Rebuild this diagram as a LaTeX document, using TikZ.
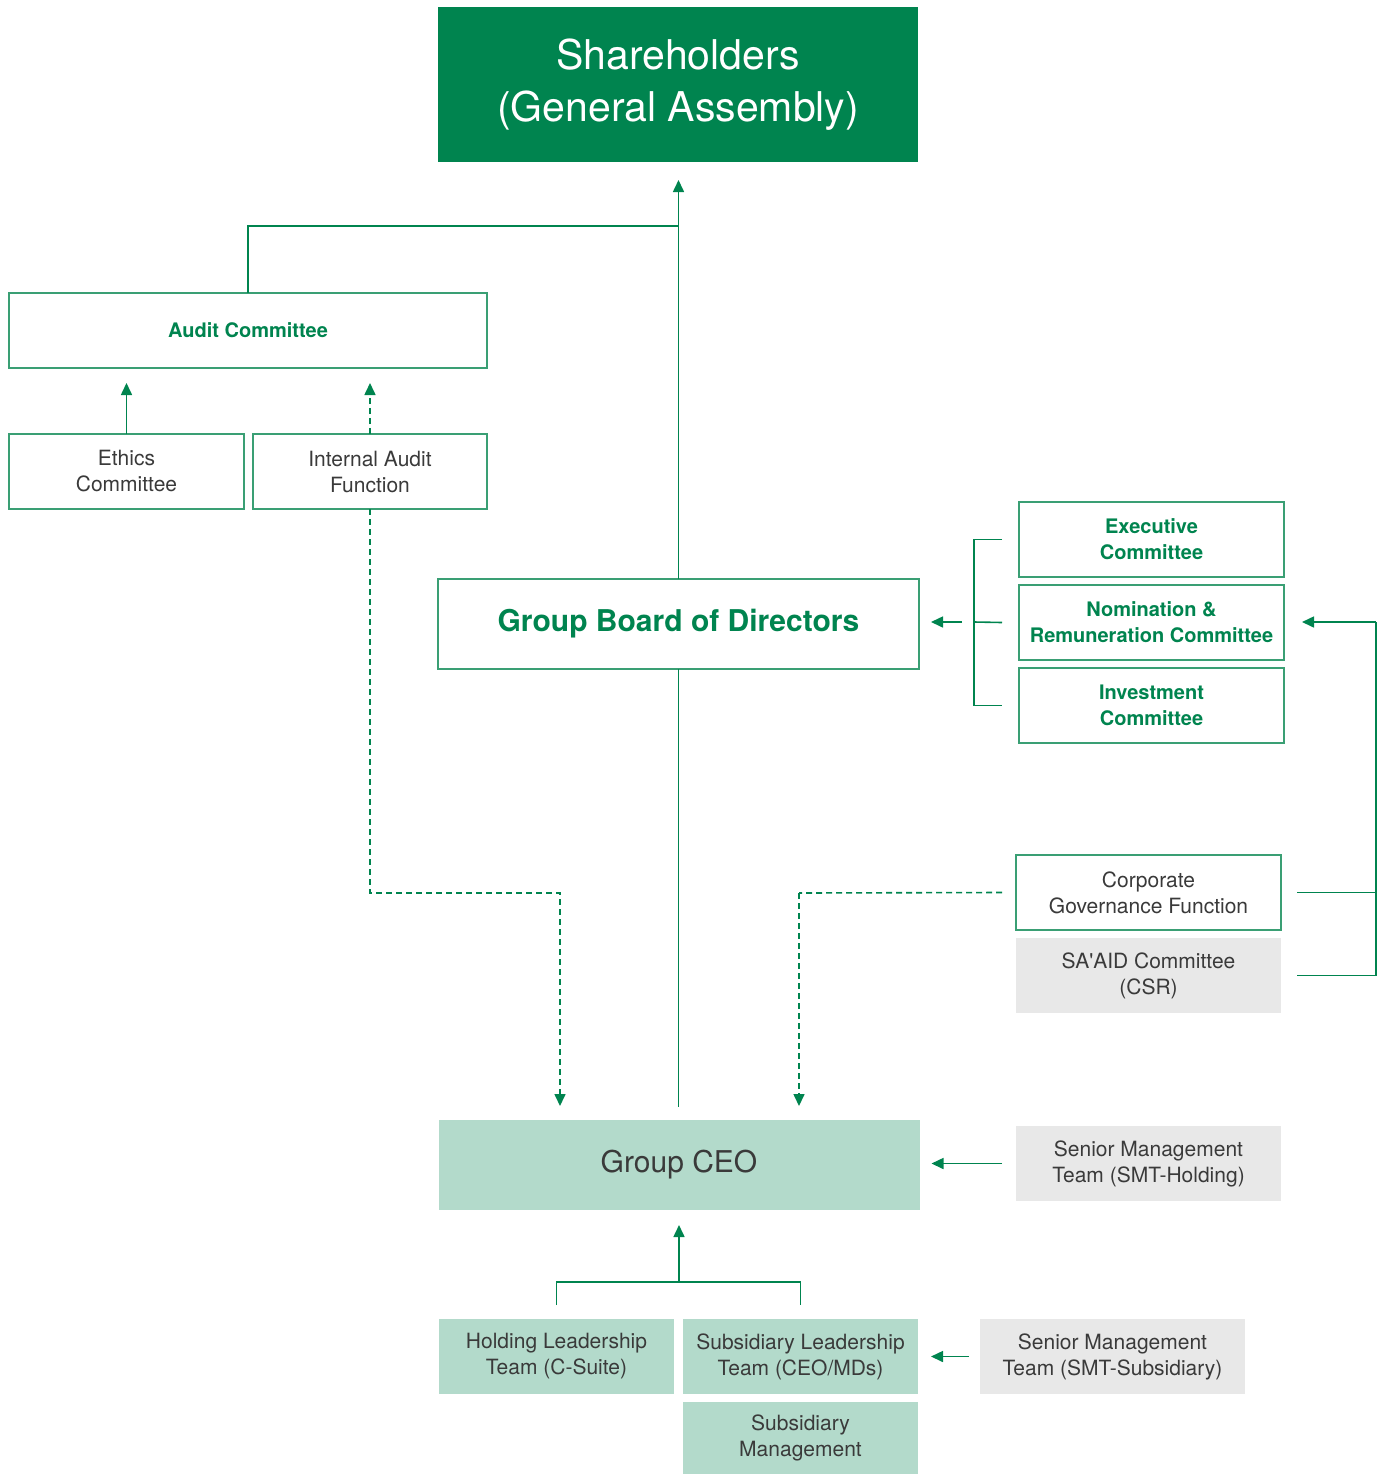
\documentclass[tikz,border=0pt]{standalone}
\usepackage{fontspec}
\setmainfont{TeX Gyre Heros}
\usetikzlibrary{arrows.meta}
\definecolor{dgreen}{HTML}{00844F}
\definecolor{bgreen}{HTML}{3A9F74}
\definecolor{lgreen}{HTML}{B3DACB}
\definecolor{lgrey}{HTML}{E8E8E8}
\definecolor{txt}{HTML}{3A3A3A}
\begin{document}
\begin{tikzpicture}[x=1pt,y=-1pt,
  base/.style={inner sep=0pt,outer sep=0pt,align=center,text=txt,font=\fontsize{21}{26}\selectfont},
  box/.style={base,draw=bgreen,line width=1.5pt,fill=white},
  gbox/.style={box,text=dgreen,font=\bfseries\fontsize{20}{26}\selectfont},
  greybox/.style={base,fill=lgrey},
  lgbox/.style={base,fill=lgreen},
  conn/.style={draw=dgreen,line width=1.6pt},
  arr/.style={conn,-{Triangle[width=11pt,length=12pt]}},
  darr/.style={arr,dash pattern=on 6pt off 4pt},
  dline/.style={conn,dash pattern=on 6pt off 4pt}
]
\useasboundingbox (0,0) rectangle (1381,1475);

% nodes
\node[base,fill=dgreen,text=white,font=\fontsize{41}{52}\selectfont,minimum width=480,minimum height=155] (share) at (678,84.5) {Shareholders\\(General Assembly)};
\node[gbox,minimum width=478,minimum height=75] (audit) at (248,330.5) {Audit Committee};
\node[box,minimum width=235,minimum height=75] (ethics) at (126.5,471.5) {Ethics\\Committee};
\node[box,minimum width=234,minimum height=75] (ia) at (370,471.5) {Internal Audit\\Function};
\node[gbox,font=\bfseries\fontsize{30}{36}\selectfont,minimum width=481,minimum height=90] (board) at (678.5,624) {Group Board of Directors};
\node[gbox,minimum width=265,minimum height=75] (exec) at (1151.5,539.5) {Executive\\Committee};
\node[gbox,minimum width=265,minimum height=75] (nom) at (1151.5,622.5) {Nomination \&\\Remuneration Committee};
\node[gbox,minimum width=265,minimum height=75] (inv) at (1151.5,705.5) {Investment\\Committee};
\node[box,minimum width=265,minimum height=75] (cg) at (1148.5,892.5) {Corporate\\Governance Function};
\node[greybox,minimum width=265,minimum height=75] (saaid) at (1148.5,975.5) {SA\textquotesingle AID Committee\\(CSR)};
\node[lgbox,font=\fontsize{30}{36}\selectfont,minimum width=481,minimum height=90] (ceo) at (679,1165) {Group CEO};
\node[greybox,minimum width=265,minimum height=75] (smth) at (1148.5,1163.5) {Senior Management\\Team (SMT-Holding)};
\node[lgbox,minimum width=235,minimum height=75] (hold) at (556.5,1356.5) {Holding Leadership\\Team (C-Suite)};
\node[lgbox,minimum width=235,minimum height=75] (subl) at (800.5,1356.5) {Subsidiary Leadership\\Team (CEO/MDs)};
\node[lgbox,minimum width=235,minimum height=72] (subm) at (800.5,1438) {Subsidiary\\Management};
\node[greybox,minimum width=265,minimum height=75] (smts) at (1112.5,1356.5) {Senior Management\\Team (SMT-Subsidiary)};

% junction coordinates
\coordinate (j1) at (679,226);
\coordinate (k1) at (560,893);
\coordinate (k2) at (799,893);
\coordinate (bx) at (974,622);
\coordinate (rx) at (1376,622);
\coordinate (j3) at (679,1282);

% connectors
\draw[arr,shorten >=18pt] (board.north) -- (board.north |- share.south);
\draw[conn] (audit.north) |- (j1);
\draw[arr,shorten >=15pt] (ethics.north) -- (ethics.north |- audit.south);
\draw[darr,shorten >=15pt] (ia.north) -- (ia.north |- audit.south);
\draw[darr,shorten >=14pt] (ia.south) |- (k1) -- (k1 |- ceo.north);
\draw[conn,shorten >=13pt] (board.south) -- (board.south |- ceo.north);

\draw[conn] ([xshift=-17pt]exec.west) -| (bx) |- ([xshift=-17pt]inv.west);
\draw[conn] ([xshift=-17pt]nom.west) -- (bx);
\draw[arr,shorten <=12pt,shorten >=12pt] (bx) -- (bx -| board.east);

\draw[conn] ([xshift=16pt]cg.east) -| (rx);
\draw[conn] ([xshift=16pt]saaid.east) -| (rx);
\draw[arr,shorten >=18pt] (rx) -- (rx -| nom.east);

\draw[dline] ([xshift=-14pt]cg.west) -- (k2);
\draw[darr,shorten >=14pt] (k2) -- (k2 |- ceo.north);

\draw[arr,shorten <=14pt,shorten >=12pt] (smth.west) -- (smth.west -| ceo.east);

\draw[conn] ([yshift=14pt]hold.north) |- (j3) -| ([yshift=14pt]subl.north);
\draw[arr,shorten >=15pt] (j3) -- (j3 |- ceo.south);

\draw[arr,shorten <=11pt,shorten >=13pt] (smts.west) -- (smts.west -| subl.east);
\end{tikzpicture}
\end{document}
